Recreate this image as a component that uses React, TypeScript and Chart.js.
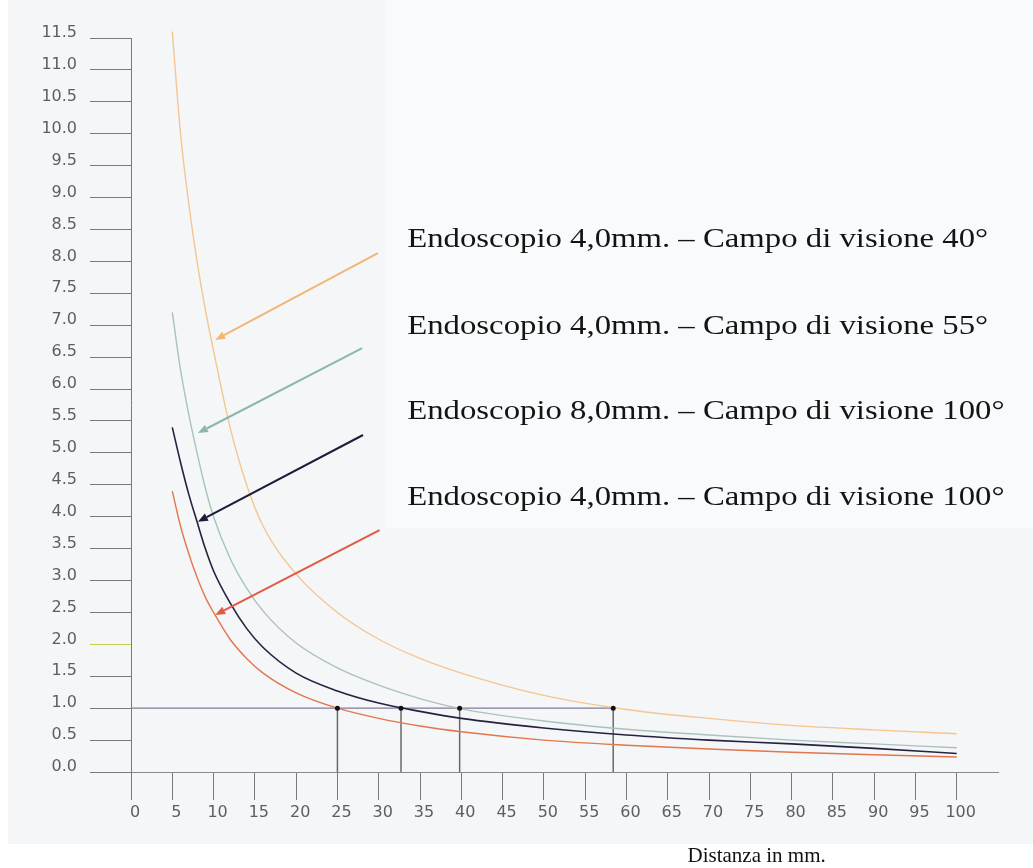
import React, { useEffect, useRef } from "react";
import { Chart, registerables } from "chart.js";

Chart.register(...registerables);

// ---- Data ----
const distances = [5, 6, 7, 8, 9, 10, 12, 14, 16, 20, 25, 30, 35, 40, 50, 60, 70, 80, 90, 100];
const endo4mm40 = [11.6, 10.0, 8.9, 8.0, 7.25, 6.6, 5.4, 4.5, 3.85, 3.1, 2.5, 2.08, 1.78, 1.55, 1.2, 0.98, 0.84, 0.73, 0.66, 0.6];
const endo4mm55 = [7.2, 6.3, 5.6, 5.0, 4.45, 4.0, 3.35, 2.88, 2.52, 2.02, 1.63, 1.36, 1.15, 0.99, 0.8, 0.67, 0.58, 0.5, 0.44, 0.38];
const endo8mm100 = [5.4, 4.85, 4.35, 3.92, 3.5, 3.15, 2.65, 2.25, 1.95, 1.55, 1.27, 1.08, 0.95, 0.84, 0.69, 0.58, 0.5, 0.44, 0.37, 0.29];
const endo4mm100 = [4.4, 3.85, 3.42, 3.05, 2.74, 2.5, 2.08, 1.78, 1.55, 1.24, 1.0, 0.84, 0.72, 0.63, 0.5, 0.42, 0.36, 0.31, 0.27, 0.235];

const seriesLabels = [
  "Endoscopio 4,0mm. – Campo di visione 40°",
  "Endoscopio 4,0mm. – Campo di visione 55°",
  "Endoscopio 8,0mm. – Campo di visione 100°",
  "Endoscopio 4,0mm. – Campo di visione 100°",
];
const seriesColors = ["#f6c591", "#a9c3bc", "#24223f", "#e3764c"];
const arrowColors = ["#f2b677", "#8db6ad", "#1d1c3a", "#e05a44"];

// distances where each curve reaches 1.0
const crossings = [25, 32.7, 39.8, 58.4];
const refLevel = 1.0;

const yTickValues = [0, 0.5, 1, 1.5, 2, 2.5, 3, 3.5, 4, 4.5, 5, 5.5, 6, 6.5, 7, 7.5, 8, 8.5, 9, 9.5, 10, 10.5, 11, 11.5];
const xTickValues = [0, 5, 10, 15, 20, 25, 30, 35, 40, 45, 50, 55, 60, 65, 70, 75, 80, 85, 90, 95, 100];
const xAxisTitle = "Distanza in mm.";

// arrows (data units): start -> tip on the curve
const arrowStartX = [29.9, 28.0, 28.1, 30.1];
const arrowStartY = [8.13, 6.64, 5.28, 3.79];
const arrowTipX = [10.2, 8.1, 8.1, 10.2];
const arrowTipY = [6.77, 5.31, 3.92, 2.46];

// label anchors (data units, text baseline)
const labelX = 33.45;
const labelY = [8.22, 6.87, 5.53, 4.18];

const toPoints = (vals: number[]) => distances.map((d, i) => ({ x: d, y: vals[i] }));

const backgroundPlugin = {
  id: "bg",
  beforeDraw(chart: any) {
    const { ctx, width, height } = chart;
    ctx.save();
    ctx.fillStyle = "#ffffff";
    ctx.fillRect(0, 0, width, height);
    ctx.fillStyle = "#f4f6f8";
    ctx.fillRect(8, 0, width - 8, 844);
    ctx.fillStyle = "#f9fafb";
    ctx.fillRect(385, 0, width - 385, 528);
    ctx.restore();
  },
};

const annotationPlugin = {
  id: "annot",
  afterDatasetsDraw(chart: any) {
    const { ctx, scales } = chart;
    const xs = scales.x;
    const ys = scales.y;
    ctx.save();
    // arrows
    for (let i = 0; i < arrowStartX.length; i++) {
      const x0 = xs.getPixelForValue(arrowStartX[i]);
      const y0 = ys.getPixelForValue(arrowStartY[i]);
      const x1 = xs.getPixelForValue(arrowTipX[i]);
      const y1 = ys.getPixelForValue(arrowTipY[i]);
      const ang = Math.atan2(y1 - y0, x1 - x0);
      const headLen = 10;
      const headW = 4;
      const bx = x1 - headLen * Math.cos(ang);
      const by = y1 - headLen * Math.sin(ang);
      ctx.strokeStyle = arrowColors[i];
      ctx.fillStyle = arrowColors[i];
      ctx.lineWidth = 2;
      ctx.beginPath();
      ctx.moveTo(x0, y0);
      ctx.lineTo(bx, by);
      ctx.stroke();
      ctx.beginPath();
      ctx.moveTo(x1, y1);
      ctx.lineTo(bx + headW * Math.sin(ang), by - headW * Math.cos(ang));
      ctx.lineTo(bx - headW * Math.sin(ang), by + headW * Math.cos(ang));
      ctx.closePath();
      ctx.fill();
    }
    // labels
    ctx.fillStyle = "#141414";
    ctx.font = "28px 'Liberation Serif', 'Times New Roman', serif";
    ctx.textBaseline = "alphabetic";
    ctx.textAlign = "left";
    for (let i = 0; i < seriesLabels.length; i++) {
      const px = xs.getPixelForValue(labelX);
      const py = ys.getPixelForValue(labelY[i]);
      ctx.save();
      ctx.translate(px, py);
      ctx.scale(1.17, 1);
      ctx.fillText(seriesLabels[i], 0, 0);
      ctx.restore();
    }
    // axis title
    ctx.font = "21px 'Liberation Serif', 'Times New Roman', serif";
    ctx.fillStyle = "#111111";
    ctx.fillText(xAxisTitle, xs.getPixelForValue(67.4), xs.bottom - 6);
    ctx.restore();
  },
};

export default function App() {
  const canvasRef = useRef<HTMLCanvasElement | null>(null);

  useEffect(() => {
    const canvas = canvasRef.current;
    if (!canvas) return;
    const curveData = [endo4mm40, endo4mm55, endo8mm100, endo4mm100];
    const curveDatasets = curveData.map((vals, i) => ({
      type: "line" as const,
      label: seriesLabels[i],
      data: toPoints(vals),
      borderColor: seriesColors[i],
      borderWidth: i === 2 ? 1.6 : 1.4,
      pointRadius: 0,
      cubicInterpolationMode: "monotone" as const,
      fill: false,
      clip: false as any,
      order: 2,
    }));
    const dropLines = crossings.map((c) => ({
      type: "line" as const,
      label: "drop " + c,
      data: [
        { x: c, y: refLevel },
        { x: c, y: 0 },
      ],
      borderColor: "#6a6a6a",
      borderWidth: 1.5,
      pointRadius: 0,
      order: 3,
    }));
    const refLine = {
      type: "line" as const,
      label: "ref",
      data: [
        { x: 0, y: refLevel },
        { x: crossings[crossings.length - 1], y: refLevel },
      ],
      borderColor: "#7f7b98",
      borderWidth: 1.2,
      pointRadius: 0,
      order: 3,
    };
    const dots = {
      type: "scatter" as const,
      label: "dots",
      data: crossings.map((c) => ({ x: c, y: refLevel })),
      pointRadius: 2.5,
      pointBackgroundColor: "#111111",
      pointBorderWidth: 0,
      order: 1,
    };

    const chart = new Chart(canvas, {
      type: "line",
      data: { datasets: [...curveDatasets, ...dropLines, refLine, dots] as any },
      options: {
        animation: false,
        responsive: false,
        devicePixelRatio: 1,
        layout: { padding: { top: 38, right: 35, left: 0, bottom: 0 } },
        plugins: { legend: { display: false }, tooltip: { enabled: false } },
        scales: {
          x: {
            type: "linear",
            min: 0,
            max: 105,
            afterBuildTicks: (s: any) => {
              s.ticks = xTickValues.map((v) => ({ value: v }));
            },
            afterFit: (s: any) => {
              s.height = 96;
            },
            ticks: {
              autoSkip: false,
              maxRotation: 0,
              padding: 3,
              labelOffset: 4,
              color: "#5e5e5e",
              font: { family: "'DejaVu Sans', sans-serif", size: 16 },
              callback: (v: any) => String(v),
            },
            grid: { drawOnChartArea: false, drawTicks: true, tickLength: 28, tickColor: "#7a7a7a", tickWidth: 1 },
            border: { display: true, color: "#8a8a8a", width: 1 },
          },
          y: {
            type: "linear",
            min: 0,
            max: 11.5,
            afterBuildTicks: (s: any) => {
              s.ticks = yTickValues.map((v) => ({ value: v }));
            },
            afterFit: (s: any) => {
              s.width = 131;
            },
            ticks: {
              autoSkip: false,
              padding: 13,
              labelOffset: -5,
              color: "#5e5e5e",
              font: { family: "'DejaVu Sans', sans-serif", size: 16 },
              callback: (v: any) => Number(v).toFixed(1),
            },
            grid: {
              drawOnChartArea: false,
              drawTicks: true,
              tickLength: 41,
              tickWidth: 1,
              tickColor: (ctx: any) => (ctx.tick && ctx.tick.value === 2 ? "#c8d048" : "#7a7a7a"),
            },
            border: { display: true, color: "#7a7a7a", width: 1 },
          },
        },
      },
      plugins: [backgroundPlugin, annotationPlugin],
    });
    return () => chart.destroy();
  }, []);

  return (
    <div style={{ position: "absolute", left: 0, top: 0, width: 1033, height: 868 }}>
      <canvas ref={canvasRef} width={1033} height={868} style={{ display: "block" }} />
    </div>
  );
}
